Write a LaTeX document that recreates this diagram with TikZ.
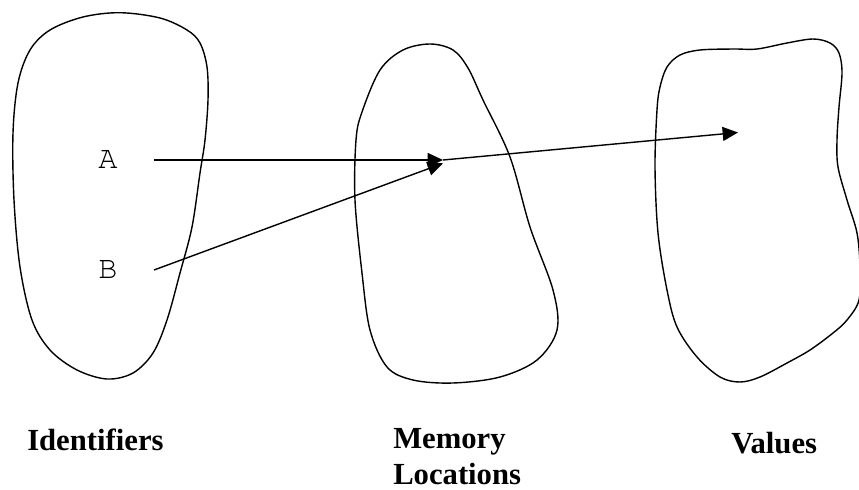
\documentclass[tikz,border=0pt]{standalone}
\usepackage{fontspec}
\setmainfont{Liberation Serif}
\newfontfamily\curfont{TeX Gyre Cursor}
\usetikzlibrary{arrows.meta}
\begin{document}
\begin{tikzpicture}[x=0.75pt,y=-0.75pt,
  blob/.style={draw=black,line width=1.05pt},
  conn/.style={draw=black,line width=1.05pt,-{Triangle[length=11.5pt,width=10.5pt]}},
  lbl/.style={font=\fontsize{23}{27}\selectfont\bfseries,inner sep=0pt,anchor=base west,align=left},
  var/.style={font=\fontsize{24}{28}\selectfont\curfont,inner sep=0pt}]
\useasboundingbox (0,0) rectangle (859,489);
% blobs
\draw[blob] plot[smooth cycle,tension=0.55] coordinates {
 (120,12.7) (160,18) (187,30) (200,43) (207,67) (208,100) (205,140) (200,173)
 (192,227) (180,273) (167,320) (153,353) (133,373) (107,379) (77,370) (50,350)
 (32,320) (20,267) (14,200) (13,133) (18,83) (30,50) (50,30) (83,17)};
\draw[blob] plot[smooth cycle,tension=0.55] coordinates {
 (430,44) (453,50) (468,68) (483,100) (510,157) (530,227) (553,290) (557,330)
 (537,360) (500,377) (453,383) (413,380) (387,367) (370,330) (362,273) (355,200)
 (356,140) (362,112) (380,70) (403,50)};
\draw[blob] plot[smooth cycle,tension=0.55] coordinates {
 (667,67) (680,55) (700,50) (733,49) (757,49) (787,43) (813,39) (830,43) (839,53)
 (842,73) (839,107) (837,140) (838,167) (847,200) (857,233) (860,267) (859,300)
 (847,320) (833,333) (810,350) (787,363) (760,377) (740,382) (720,377) (697,357)
 (677,327) (667,290) (658,233) (655,167) (657,110) (660,87)};
% identifiers
\node[var] (A) at (108,159) {A};
\node[var] (B) at (108,269) {B};
\coordinate (As) at (154,160);
\coordinate (Bs) at (154,270);
\coordinate (M) at (443,160);
\coordinate (V) at (738,132.5);
\draw[conn] (As) -- (M);
\draw[conn] (Bs) -- ([yshift=-2.5pt]M);
\draw[conn] (M) -- (V);
% labels
\node[lbl] (idl) at (27,450) {Identifiers};
\node[lbl] (mll) at (393,484) {Memory\\Locations};
\node[lbl] (vl) at (731,453) {Values};
\end{tikzpicture}
\end{document}
